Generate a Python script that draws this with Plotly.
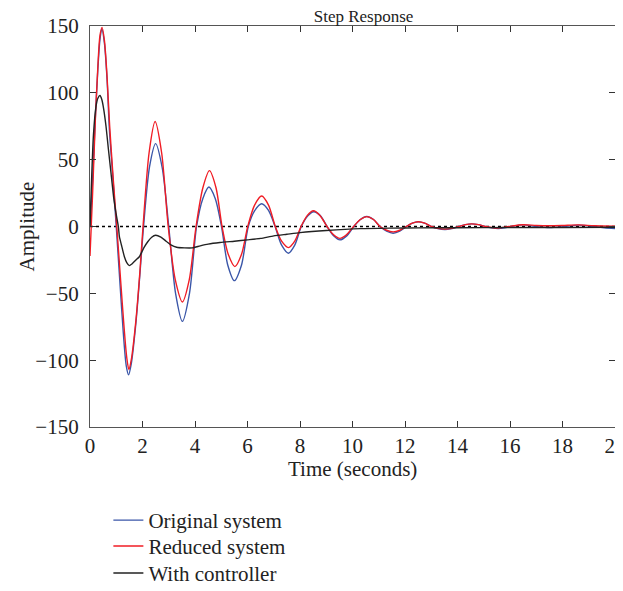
import plotly.graph_objects as go

# ---- data ----
t_orig = [0, 0.1, 0.2, 0.3, 0.38, 0.45, 0.55, 0.65, 0.74, 0.87, 1.0, 1.15, 1.27, 1.38, 1.47, 1.57, 1.75, 1.9, 2.04,
          2.27, 2.5, 2.75, 3.0, 3.26, 3.52, 3.79, 4.06, 4.3, 4.53, 4.77, 5.01, 5.25, 5.5, 5.77, 6.03,
          6.28, 6.54, 6.8, 7.05, 7.3, 7.56, 7.8, 8.05, 8.3, 8.52, 8.78, 9.03, 9.28, 9.52, 9.78, 10.05,
          10.3, 10.54, 10.8, 11.05, 11.3, 11.55, 11.8, 12.05, 12.28, 12.5, 12.75, 13.0, 13.25, 13.52,
          13.78, 14.05, 14.3, 14.54, 14.8, 15.05, 15.3, 15.55, 15.8, 16.05, 16.5, 17.0, 17.5, 18.0,
          18.6, 19.2, 19.6, 20]
y_orig = [0, 35, 80, 118, 140, 148, 137, 110, 72, 37, 0, -45, -80, -104, -111, -103, -72, -36, 0,
          45, 62, 44, 0, -50, -71, -50, 0, 21, 29.5, 21, 0, -29, -40.5, -29, 0,
          12, 17, 12, 0, -14, -20, -14, 0, 8, 11, 8, 0, -7, -10, -7, 0,
          5.2, 7.5, 5.2, 0, -3.5, -5, -3.5, 0, 2.5, 3.6, 2.5, 0, -1.6, -2.3,
          -1.6, 0, 1.4, 2, 1.4, 0, -1, -1.5, -1, 0, 1.2, 0, -0.8, -0.2,
          1, 0, -1, -1.5]

t_red = [0, 0.1, 0.2, 0.3, 0.38, 0.46, 0.55, 0.65, 0.75, 0.88, 1.02, 1.18, 1.3, 1.4, 1.48, 1.57, 1.75, 1.9, 2.02,
         2.25, 2.48, 2.73, 2.98, 3.25, 3.52, 3.78, 4.04, 4.3, 4.55, 4.8, 5.03, 5.27, 5.52, 5.77, 6.01,
         6.27, 6.54, 6.8, 7.06, 7.3, 7.56, 7.8, 8.04, 8.28, 8.51, 8.76, 9.03, 9.28, 9.52, 9.77, 10.04,
         10.3, 10.54, 10.8, 11.05, 11.3, 11.55, 11.8, 12.05, 12.28, 12.51, 12.75, 13.0, 13.25, 13.52,
         13.78, 14.05, 14.3, 14.54, 14.8, 15.05, 15.3, 15.55, 15.8, 16.05, 16.5, 17.0, 17.5, 18.0,
         18.6, 19.2, 20]
y_red = [-22, 25, 78, 120, 143, 149, 139, 112, 75, 37, 0, -44, -76, -98, -107, -100, -70, -34, 0,
         55, 78.5, 55, 0, -40, -56.5, -40, 0, 29, 41.8, 29, 0, -21, -30, -21, 0,
         16, 22.8, 16, 0, -11, -15.8, -11, 0, 8.3, 11.8, 8.3, 0, -6.2, -8.9, -6.2, 0,
         5.2, 7.4, 5.2, 0, -2.8, -4, -2.8, 0, 2.5, 3.6, 2.5, 0, -1.4, -2,
         -1.4, 0, 1.4, 2, 1.4, 0, -0.8, -1.2, -0.5, 0.3, 1.3, 0.8, 0.6, 0.8,
         1.2, 0.6, 0.3]

t_ctrl = [0, 0.06, 0.13, 0.23, 0.3, 0.38, 0.45, 0.52, 0.61, 0.7, 0.8, 0.9, 0.99, 1.08, 1.12, 1.2, 1.31, 1.4,
          1.5, 1.6, 1.75, 1.88, 2.05, 2.2, 2.35, 2.5, 2.7, 2.9, 3.1, 3.3, 3.6, 3.9, 4.2, 4.5, 4.95,
          5.5, 6.0, 6.5, 7.0, 7.5, 8.0, 9.0, 10.3, 11.5, 12.5, 14, 16, 18, 20]
y_ctrl = [0, 35, 68, 90, 96, 98, 95, 88, 75, 58, 40, 22, 10, 0, -7.6, -14, -22.6, -27,
          -29.3, -28, -25, -22.6, -16, -11.4, -8, -6.6, -8, -11, -14, -15.5, -16, -16, -14.5, -13.2, -12,
          -11, -10, -8.9, -7, -5.8, -4.6, -3, -1.6, -1.2, -1, -0.9, -0.8, -0.7, -0.6]

series_names = ["Original system", "Reduced system", "With controller"]
x_ticks = [0, 2, 4, 6, 8, 10, 12, 14, 16, 18, 20]
y_ticks = [-150, -100, -50, 0, 50, 100, 150]
y_tick_text = ["\u2212150", "\u2212100", "\u221250", "0", "50", "100", "150"]

FONT = "Liberation Serif"
FS = 21

fig = go.Figure()
fig.add_trace(go.Scatter(x=t_orig, y=y_orig, mode="lines", name=series_names[0], legend="legend",
                         line=dict(color="#3a56a8", width=1.4, shape="spline", smoothing=0.8)))
fig.add_trace(go.Scatter(x=t_red, y=y_red, mode="lines", name=series_names[1], legend="legend2",
                         line=dict(color="#f01c24", width=1.4, shape="spline", smoothing=0.8)))
fig.add_trace(go.Scatter(x=t_ctrl, y=y_ctrl, mode="lines", name=series_names[2], legend="legend3",
                         line=dict(color="#222222", width=1.4, shape="spline", smoothing=0.6)))

fig.add_hline(y=0, line=dict(color="black", width=1.3, dash="dot"), layer="below")

axis_common = dict(showgrid=False, zeroline=False, showline=True, linecolor="#555555", linewidth=1.3,
                   mirror="ticks", ticks="inside", ticklen=6, tickcolor="#333333", tickwidth=1,
                   automargin=False, ticklabeloverflow="allow",
                   tickfont=dict(family=FONT, size=FS, color="#222222"))

leg_common = dict(x=0.035, xanchor="left", yanchor="top", bgcolor="rgba(0,0,0,0)",
                  font=dict(family=FONT, size=FS, color="#222222"), itemwidth=30)

# page body has an 8px margin, so the figure is drawn 8px smaller and offset
fig.update_layout(
    width=615, height=583,
    margin=dict(l=82, r=8, t=18, b=164, autoexpand=False),
    paper_bgcolor="white", plot_bgcolor="white",
    font=dict(family=FONT, size=FS, color="#222222"),
    title=dict(text="Step Response", xref="paper", x=0.521, xanchor="center",
               yref="container", y=1 - 8 / 583, yanchor="middle",
               font=dict(family=FONT, size=17, color="#222222")),
    xaxis=dict(range=[0, 20], tickvals=x_ticks, ticktext=[str(v) for v in x_ticks],
               ticklabelstandoff=0, **axis_common),
    yaxis=dict(range=[-150, 150], tickvals=y_ticks, ticktext=y_tick_text,
               ticklabelstandoff=6, **axis_common),
    legend=dict(y=-0.182, **leg_common),
    legend2=dict(y=-0.2465, **leg_common),
    legend3=dict(y=-0.314, **leg_common),
    showlegend=True,
)

fig.add_annotation(text="Amplitude", textangle=-90, xref="paper", yref="paper",
                   x=(26 - 90) / 525, y=0.5, xanchor="center", yanchor="middle", showarrow=False,
                   font=dict(family=FONT, size=FS, color="#222222"))
fig.add_annotation(text="Time (seconds)", xref="paper", yref="paper",
                   x=0.5, y=-(468.5 - 427) / 401, xanchor="center", yanchor="middle", showarrow=False,
                   font=dict(family=FONT, size=FS, color="#222222"))

fig.write_html("out.html")
